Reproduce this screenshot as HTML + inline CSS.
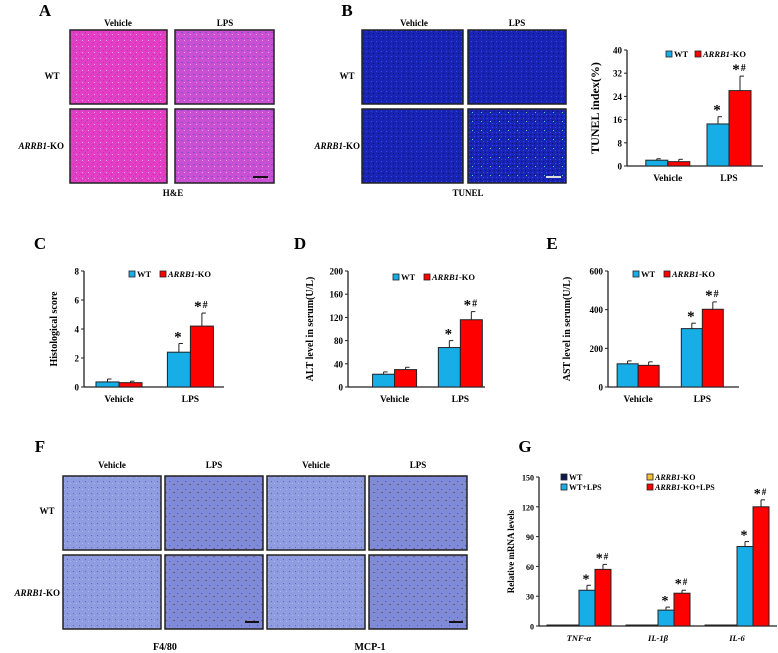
<!DOCTYPE html>
<html><head><meta charset="utf-8"><style>
body{margin:0;background:#fff;}
svg{display:block;font-family:"Liberation Serif",serif;font-weight:bold;}
</style></head><body>
<svg id="fig" width="778" height="653" viewBox="0 0 778 653" xmlns="http://www.w3.org/2000/svg">
<defs>
<pattern id="heV" width="6" height="6" patternUnits="userSpaceOnUse"><rect width="6" height="6" fill="#e23fc4"/><rect x="1" y="2" width="1" height="1" fill="#8a4ac8"/><rect x="4" y="4" width="1" height="1" fill="#f0a0e0"/><rect x="3" y="0" width="1" height="1" fill="#9c40c0"/></pattern>
<pattern id="heL" width="6" height="6" patternUnits="userSpaceOnUse"><rect width="6" height="6" fill="#c950d2"/><rect x="1" y="2" width="2" height="1" fill="#8850c8"/><rect x="4" y="4" width="1" height="1" fill="#e8a8e8"/></pattern>
<pattern id="tu" width="5" height="5" patternUnits="userSpaceOnUse"><rect width="5" height="5" fill="#1a24b4"/><rect x="1" y="1" width="1" height="1" fill="#3048f0"/><rect x="3" y="3" width="1" height="1" fill="#0a1070"/></pattern>
<pattern id="tuL" width="9" height="9" patternUnits="userSpaceOnUse"><rect width="9" height="9" fill="url(#tu)"/><rect x="4" y="4" width="1" height="1" fill="#40e0a0"/></pattern>
<pattern id="ihc" width="6" height="6" patternUnits="userSpaceOnUse"><rect width="6" height="6" fill="#8f9ce0"/><rect x="1" y="1" width="1" height="1" fill="#5c68c8"/><rect x="4" y="3" width="1" height="1" fill="#b0b8e8"/></pattern>
<pattern id="ihcL" width="8" height="8" patternUnits="userSpaceOnUse"><rect width="8" height="8" fill="#7f8ad8"/><rect x="1" y="1" width="1" height="1" fill="#4c58b8"/><rect x="5" y="4" width="2" height="1" fill="#7a5a70"/></pattern>
</defs>
<g id="micro"></g>
<g id="charts"></g>
</svg>
<script>
// ---- Chart data ----
const groupsAB = ["Vehicle","LPS"];
const tunelWT = [2, 14.5], tunelWTerr = [0.5, 2.5];
const tunelKO = [1.5, 26], tunelKOerr = [0.8, 5];
const tunelTicks = [0, 8, 16, 24, 32, 40];
const histWT = [0.35, 2.4], histWTerr = [0.2, 0.6];
const histKO = [0.3, 4.2], histKOerr = [0.1, 0.9];
const histTicks = [0, 2, 4, 6, 8];
const altWT = [22, 68], altWTerr = [4, 12];
const altKO = [30, 116], altKOerr = [4, 14];
const altTicks = [0, 40, 80, 120, 160, 200];
const astWT = [120, 302], astWTerr = [15, 28];
const astKO = [112, 402], astKOerr = [18, 38];
const astTicks = [0, 200, 400, 600];
const genes = ["TNF-α","IL-1β","IL-6"];
const gWT = [1, 1, 1];
const gKO = [1, 1, 1];
const gWTL = [36, 16, 80], gWTLerr = [5, 3, 5];
const gKOL = [57, 33, 120], gKOLerr = [5, 3, 7];
const gTicks = [0, 30, 60, 90, 120, 150];

const NS = "http://www.w3.org/2000/svg";
function mk(tag, attrs, parent, text){
  const e = document.createElementNS(NS, tag);
  for (const k in attrs) e.setAttribute(k, attrs[k]);
  if (text !== undefined) e.textContent = text;
  parent.appendChild(e); return e;
}
const M = document.getElementById('micro');
const C = document.getElementById('charts');

function txt(x,y,s,size,parent,anchor,italic){
  const t = mk('text',{x:x,y:y,'font-size':size,'text-anchor':anchor||'middle'},parent);
  if (italic) t.setAttribute('font-style','italic');
  t.textContent = s; return t;
}
function koLabel(x,y,size,parent,anchor){
  const t = mk('text',{x:x,y:y,'font-size':size,'text-anchor':anchor||'end'},parent);
  mk('tspan',{'font-style':'italic'},t,'ARRB1');
  mk('tspan',{},t,'-KO');
  return t;
}
function img(x,y,w,h,fill,name){
  const r = mk('rect',{x:x,y:y,width:w,height:h,fill:fill,stroke:'#222','stroke-width':1.5},M);
  
  
}
function scalebar(x,y,w,col){ mk('rect',{x:x,y:y,width:w,height:2,fill:col},M); }

// Panel labels
[["A",45,16],["B",347,16],["C",40,249],["D",300,249],["E",552,249],["F",40,452],["G",525,452]].forEach(p=>{
  txt(p[1],p[2],p[0],17,M,'middle');
});
// Panel A
txt(118,26,"Vehicle",9,M); txt(225,26,"LPS",9,M);
txt(52,79,"WT",9,M); koLabel(64,149,9,M);
img(70,30,97,74,"url(#heV)","he-wt-vehicle"); img(175,30,99,74,"url(#heL)","he-wt-lps");
img(70,109,97,74,"url(#heV)","he-ko-vehicle"); img(175,109,99,74,"url(#heL)","he-ko-lps");
scalebar(253,176,15,"#111");
txt(173,196,"H&E",9,M);
// Panel B
txt(414,26,"Vehicle",9,M); txt(517,26,"LPS",9,M);
txt(347,79,"WT",9,M); koLabel(360,149,9,M);
img(362,30,101,74,"url(#tu)","tunel-wt-vehicle"); img(468,30,98,74,"url(#tu)","tunel-wt-lps");
img(362,109,101,74,"url(#tu)","tunel-ko-vehicle"); img(468,109,98,74,"url(#tuL)","tunel-ko-lps");
scalebar(546,176,15,"#ddd");
txt(468,196,"TUNEL",9,M);
// Panel F
const fx=[63,165,267,369];
["Vehicle","LPS","Vehicle","LPS"].forEach((s,i)=>txt(fx[i]+49,468,s,9,M));
txt(47,514,"WT",9,M); koLabel(60,596,9,M);
const fn=["f480-vehicle","f480-lps","mcp1-vehicle","mcp1-lps"];
fx.forEach((x,i)=>{img(x,476,98,74,i%2?"url(#ihcL)":"url(#ihc)","ihc-wt-"+fn[i]);img(x,555,98,74,i%2?"url(#ihcL)":"url(#ihc)","ihc-ko-"+fn[i]);});
scalebar(245,621,14,"#111"); scalebar(449,621,14,"#111");
txt(165,650,"F4/80",10,M); txt(370,650,"MCP-1",10,M);

// ---- Bar chart ----
function barChart(cfg){
  const g = mk('g',{},C);
  
  
  const ticks = cfg.ticks, ymax = ticks[ticks.length-1];
  const yS = v => cfg.y0 - (v/ymax)*(cfg.y0-cfg.y1);
  mk('line',{x1:cfg.x0,y1:cfg.y1,x2:cfg.x0,y2:cfg.y0,stroke:'#222','stroke-width':1.3},g);
  mk('line',{x1:cfg.x0,y1:cfg.y0,x2:cfg.x2,y2:cfg.y0,stroke:'#222','stroke-width':1.3},g);
  ticks.forEach(t=>{
    const y=yS(t);
    mk('line',{x1:cfg.x0-3,y1:y,x2:cfg.x0,y2:y,stroke:'#222','stroke-width':1},g);
    txt(cfg.x0-5,y+3.5,String(t),cfg.fs,g,'end');
  });
  const yl = txt(0,0,cfg.ylabel,cfg.yfs,g,'middle');
  yl.setAttribute('transform',`translate(${cfg.x0-cfg.ylOff},${(cfg.y0+cfg.y1)/2}) rotate(-90)`);
  
  const n = cfg.series.length, gw = (cfg.x2-cfg.x0);
  cfg.cats.forEach((c,i)=>{
    const cx = cfg.x0 + gw*cfg.cpos[i];
    const lab = txt(cx, cfg.y0+15, c, cfg.fs+0.5, g, 'middle', cfg.italicCats);
    
    cfg.series.forEach((s,j)=>{
      const x = cx - n*cfg.bw/2 + j*cfg.bw, v=s.vals[i], y=yS(v);
      const r = mk('rect',{x:x,y:y,width:cfg.bw,height:cfg.y0-y,fill:s.color,stroke:'#222','stroke-width':1},g);
      
      
      if (s.err){
        const ye=yS(v+s.err[i]), xm=x+cfg.bw/2;
        mk('line',{x1:xm,y1:y,x2:xm,y2:ye,stroke:'#222','stroke-width':1},g);
        mk('line',{x1:xm,y1:ye,x2:xm+4,y2:ye,stroke:'#222','stroke-width':1},g);
        if (s.sig && s.sig[i]){
          const st = txt(xm-1,ye-2,"",cfg.fs+6,g,'middle');
          mk('tspan',{},st,'*');
          if (s.sig[i]==='*#'){ mk('tspan',{'font-size':cfg.fs+1,dy:-3,dx:1},st,'#'); }
        }
      }
    });
  });
  cfg.legend.forEach(L=>{
    const lg = mk('g',{},g);
    
    
    mk('rect',{x:L.x,y:L.y-6,width:6,height:6,fill:L.color,stroke:'#222','stroke-width':0.8},lg);
    if (L.ko){ const t=koLabel(L.x+8,L.y,cfg.lfs,lg,'start'); if(L.suffix) mk('tspan',{},t,L.suffix);} 
    else txt(L.x+8,L.y,L.label,cfg.lfs,lg,'start');
  });
}
const BLUE="#17aee8", RED="#ff0000";
barChart({name:'tunel-chart',x0:627,x2:763,y0:166,y1:50,ticks:tunelTicks,fs:9,yfs:12,ylOff:28,ylabel:'TUNEL  index(%)',
  cats:groupsAB,cpos:[0.30,0.75],bw:22,lfs:8.5,
  series:[{key:'wt',vals:tunelWT,err:tunelWTerr,color:BLUE,sig:['','*']},{key:'ko',vals:tunelKO,err:tunelKOerr,color:RED,sig:['','*#']}],
  legend:[{x:666,y:57,color:BLUE,label:'WT'},{x:695,y:57,color:RED,ko:1}]});
barChart({name:'histology-chart',x0:84,x2:224,y0:387,y1:271,ticks:histTicks,fs:9,yfs:10,ylOff:27,ylabel:'Histological score',
  cats:groupsAB,cpos:[0.25,0.76],bw:23,lfs:8.5,
  series:[{key:'wt',vals:histWT,err:histWTerr,color:BLUE,sig:['','*']},{key:'ko',vals:histKO,err:histKOerr,color:RED,sig:['','*#']}],
  legend:[{x:129,y:277,color:BLUE,label:'WT'},{x:160,y:277,color:RED,ko:1}]});
barChart({name:'alt-chart',x0:348,x2:485,y0:387,y1:271,ticks:altTicks,fs:9,yfs:10,ylOff:35,ylabel:'ALT level in serum(U/L)',
  cats:groupsAB,cpos:[0.34,0.82],bw:22,lfs:8.5,
  series:[{key:'wt',vals:altWT,err:altWTerr,color:BLUE,sig:['','*']},{key:'ko',vals:altKO,err:altKOerr,color:RED,sig:['','*#']}],
  legend:[{x:393,y:280,color:BLUE,label:'WT'},{x:424,y:280,color:RED,ko:1}]});
barChart({name:'ast-chart',x0:608,x2:739,y0:387,y1:271,ticks:astTicks,fs:9,yfs:10,ylOff:38,ylabel:'AST level in serum(U/L)',
  cats:groupsAB,cpos:[0.23,0.72],bw:21,lfs:8.5,
  series:[{key:'wt',vals:astWT,err:astWTerr,color:BLUE,sig:['','*']},{key:'ko',vals:astKO,err:astKOerr,color:RED,sig:['','*#']}],
  legend:[{x:633,y:277,color:BLUE,label:'WT'},{x:664,y:277,color:RED,ko:1}]});
barChart({name:'mrna-chart',x0:539,x2:777,y0:626,y1:477,ticks:gTicks,fs:8,yfs:9,ylOff:25,ylabel:'Relative mRNA levels',
  cats:genes,cpos:[0.168,0.5,0.832],bw:16,lfs:8,italicCats:true,
  series:[{key:'wt',vals:gWT,color:'#0b1a50'},{key:'ko',vals:gKO,color:'#f2c230'},
    {key:'wt-lps',vals:gWTL,err:gWTLerr,color:BLUE,sig:['*','*','*']},{key:'ko-lps',vals:gKOL,err:gKOLerr,color:RED,sig:['*#','*#','*#']}],
  legend:[{x:561,y:480,color:'#0b1a50',label:'WT'},{x:561,y:490,color:BLUE,label:'WT+LPS'},
    {x:647,y:480,color:'#f2c230',ko:1},{x:647,y:490,color:RED,ko:1,suffix:'+LPS'}]});
</script>
</body></html>
